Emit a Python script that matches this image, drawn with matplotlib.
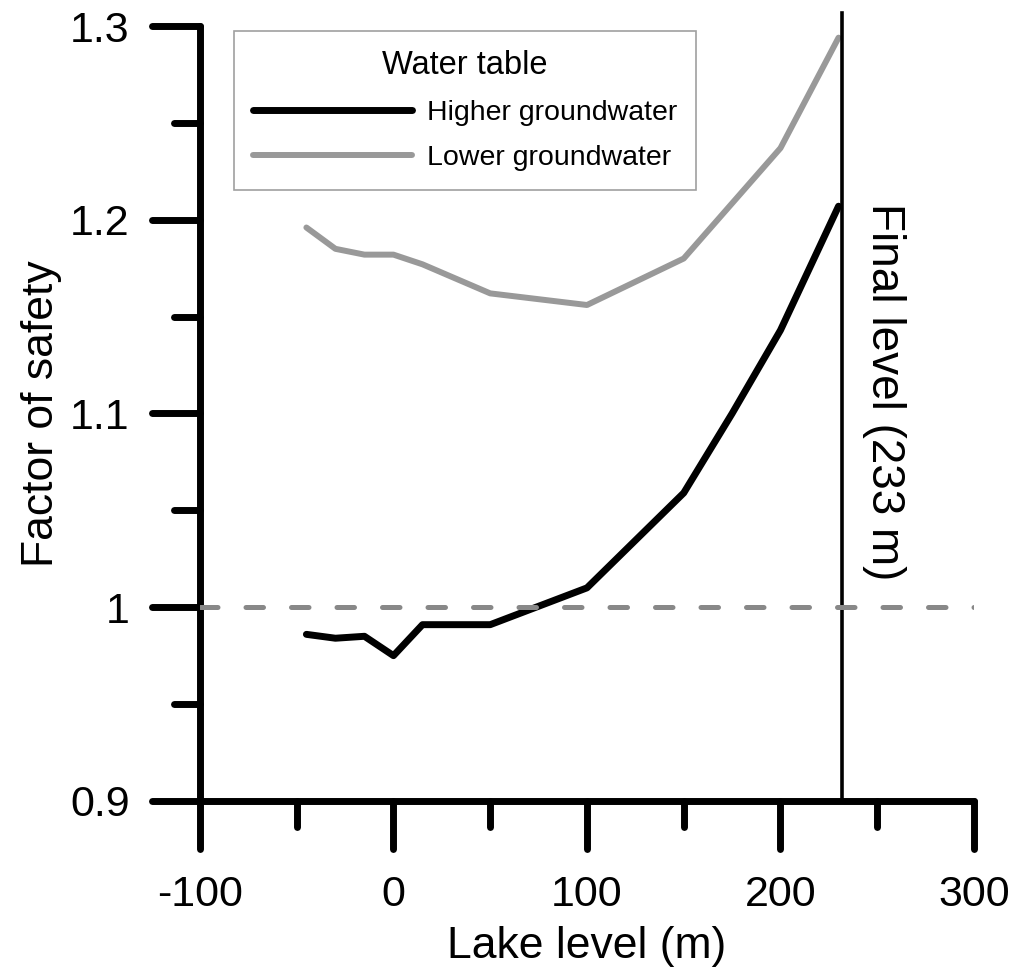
import matplotlib
matplotlib.use("Agg")
import matplotlib.pyplot as plt
from matplotlib.markers import MarkerStyle, TICKDOWN, TICKLEFT

plt.rcParams['font.family'] = ['Liberation Sans', 'DejaVu Sans']
plt.rcParams['axes.unicode_minus'] = False

# ---- data ----
higher_x = [-45, -30, -15, 0, 15, 50, 100, 150, 175, 200, 230]
higher_y = [0.986, 0.984, 0.985, 0.975, 0.991, 0.991, 1.010, 1.059, 1.100, 1.143, 1.207]
lower_x = [-45, -30, -15, 0, 15, 50, 100, 150, 200, 230]
lower_y = [1.196, 1.185, 1.182, 1.182, 1.177, 1.162, 1.156, 1.180, 1.237, 1.294]
final_level = 232
threshold = 1.0
x_ticks = [-100, 0, 100, 200, 300]
x_minor = [-50, 50, 150, 250]
y_ticks = [0.9, 1.0, 1.1, 1.2, 1.3]
y_ticklabels = ['0.9', '1', '1.1', '1.2', '1.3']
y_minor = [0.95, 1.05, 1.15, 1.25]

fig = plt.figure(figsize=(10.13, 9.75), dpi=100)
ax = fig.add_axes([0.1974, 0.1785, 0.7641, 0.7948])

ax.plot(higher_x, higher_y, color='black', lw=5, solid_capstyle='round',
        solid_joinstyle='round', label='Higher groundwater', zorder=2)
ax.plot(lower_x, lower_y, color='#999999', lw=4.3, solid_capstyle='round',
        solid_joinstyle='round', label='Lower groundwater', zorder=2)
ax.axvline(final_level, ymin=0, ymax=1.017, color='black', lw=2.6,
           clip_on=False, zorder=3)
ax.axhline(threshold, color='#888888', lw=3.6, dashes=(3.5, 5.6),
           dash_capstyle='round', zorder=4)

ax.text(253.5, 1.111, 'Final level (233 m)', rotation=-90, ha='center',
        va='center', fontsize=33)

ax.set_xlim(-100, 300)
ax.set_ylim(0.9, 1.3)
ax.set_xticks(x_ticks)
ax.set_xticks(x_minor, minor=True)
ax.set_yticks(y_ticks)
ax.set_yticklabels(y_ticklabels)
ax.set_yticks(y_minor, minor=True)

for s in ['top', 'right']:
    ax.spines[s].set_visible(False)
for s in ['left', 'bottom']:
    ax.spines[s].set_linewidth(5)
    ax.spines[s].set_capstyle('round')

ax.tick_params(which='major', direction='out', length=34.5, width=5,
               labelsize=31, pad=16)
ax.tick_params(axis='x', which='major', pad=19)
ax.tick_params(which='minor', direction='out', length=18.7, width=5)

ax.set_xlabel('Lake level (m)', fontsize=32, labelpad=8)
ax.set_ylabel('Factor of safety', fontsize=32, labelpad=6)

leg = ax.legend(title='Water table', loc='upper left',
                bbox_to_anchor=(0.044, 0.9935), borderaxespad=0,
                frameon=True, fancybox=False, edgecolor='#888888',
                fontsize=20.5, title_fontsize=23.5, handlelength=5.57,
                handletextpad=0.52, borderpad=0.68, labelspacing=0.66)
leg.get_frame().set_linewidth(1.2)

for t in ax.xaxis.get_major_ticks() + ax.xaxis.get_minor_ticks():
    t.tick1line.set_marker(MarkerStyle(TICKDOWN, capstyle='round'))
for t in ax.yaxis.get_major_ticks() + ax.yaxis.get_minor_ticks():
    t.tick1line.set_marker(MarkerStyle(TICKLEFT, capstyle='round'))

fig.savefig('out.png', dpi=100, facecolor='white')
